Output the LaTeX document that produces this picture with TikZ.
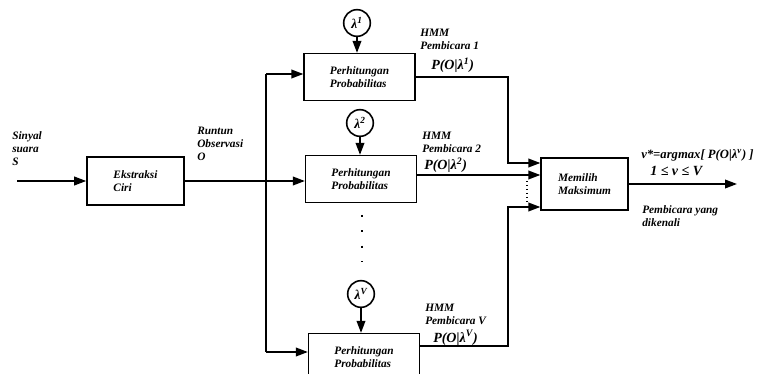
\documentclass[tikz,border=0pt]{standalone}
\usepackage{fontspec}
\setmainfont{Liberation Serif}
\usetikzlibrary{positioning,arrows.meta,calc}

\begin{document}
\begin{tikzpicture}[x=0.75pt,y=-0.75pt,
  every node/.style={font=\bfseries\itshape\fontsize{8.5}{9.8}\selectfont},
  blok/.style={draw, line width=1.2pt, align=left, inner sep=2pt},
  lam/.style={circle, draw, line width=1.2pt, inner sep=0pt, minimum size=20pt, font=\bfseries\itshape\fontsize{10}{11}\selectfont},
  panah/.style={line width=1.2pt, -{Triangle[length=9pt,width=6.5pt]}},
  garis/.style={line width=1.2pt},
  teks/.style={anchor=north west, align=left, inner sep=0pt},
  prob/.style={anchor=base west, inner sep=0pt, font=\bfseries\itshape\fontsize{10.5}{12}\selectfont}]
\useasboundingbox (0,0) rectangle (764,374);
\node[blok, minimum width=72.75pt, minimum height=36pt] (ekstraksi) at (135.5,181) {Ekstraksi\\Ciri};
\foreach \n/\xx/\yy/\lx/\ly in {1/359.5/77/357/23, 2/361/179/360/123, V/364/357/361/294} {
  \node[blok, minimum width=83pt, minimum height=35pt] (hitung\n) at (\xx,\yy) {Perhitungan\\Probabilitas};
  \node[lam] (lam\n) at (\lx,\ly) {λ\textsuperscript{\n}};
  \draw[panah] (lam\n) -- (lam\n |- hitung\n.north);
}
\node[blok, minimum width=65pt, minimum height=39pt] (memilih) at (584.5,184) {Memilih\\Maksimum};
\coordinate (masuk) at (17,181);
\coordinate (atas) at (266,74);
\coordinate (bawah) at (266,352);
\coordinate (k1) at (508,163);
\coordinate (k2) at (508,175);
\coordinate (k3) at (508,207);
\coordinate (kV) at (508,346);
\coordinate (keluar) at (737,184);
\draw[panah] (masuk) -- (masuk -| ekstraksi.west);
\draw[panah] (ekstraksi.east |- masuk) -- (masuk -| hitung2.west);
\draw[garis] (atas) -- (bawah);
\draw[panah] (atas) -- (atas -| hitung1.west);
\draw[panah] (bawah) -- (bawah -| hitungV.west);
\draw[panah] (hitung1.east) -| (k1) -- (k1 -| memilih.west);
\draw[panah] (k2 -| hitung2.east) -- (k2 -| memilih.west);
\draw[panah] (kV -| hitungV.east) -| (k3) -- (k3 -| memilih.west);
\draw[line width=1pt, dotted] (527,181) -- (527,202);
\draw[line width=1.3pt, dash pattern=on 1.5pt off 10pt] (362,215) -- (362,262);
\draw[panah] (memilih.east |- keluar) -- (keluar);
\node[teks] (sinyal) at (12,131) {Sinyal\\suara\\S};
\node[teks] (runtun) at (197,127) {Runtun\\Observasi\\O};
\node[teks] (hmm1) at (420,29) {HMM\\Pembicara 1};
\node[teks] (hmm2) at (422,132) {HMM\\Pembicara 2};
\node[teks] (hmmV) at (425,304) {HMM\\Pembicara V};
\node[prob] (p1) at (431,70) {P(O|λ\textsuperscript{1})};
\node[prob] (p2) at (424,170) {P(O|λ\textsuperscript{2})};
\node[prob] (pV) at (433,342) {P(O|λ\textsuperscript{V})};
\node[prob, font=\bfseries\itshape\fontsize{9.5}{11}\selectfont] (argmax) at (641,159) {v*=argmax[ P(O|λ\textsuperscript{v}) ]};
\node[prob] (rentang) at (650,176) {1 ≤ v ≤ V};
\node[teks] (dikenali) at (642,205) {Pembicara yang\\dikenali};
\end{tikzpicture}
\end{document}
